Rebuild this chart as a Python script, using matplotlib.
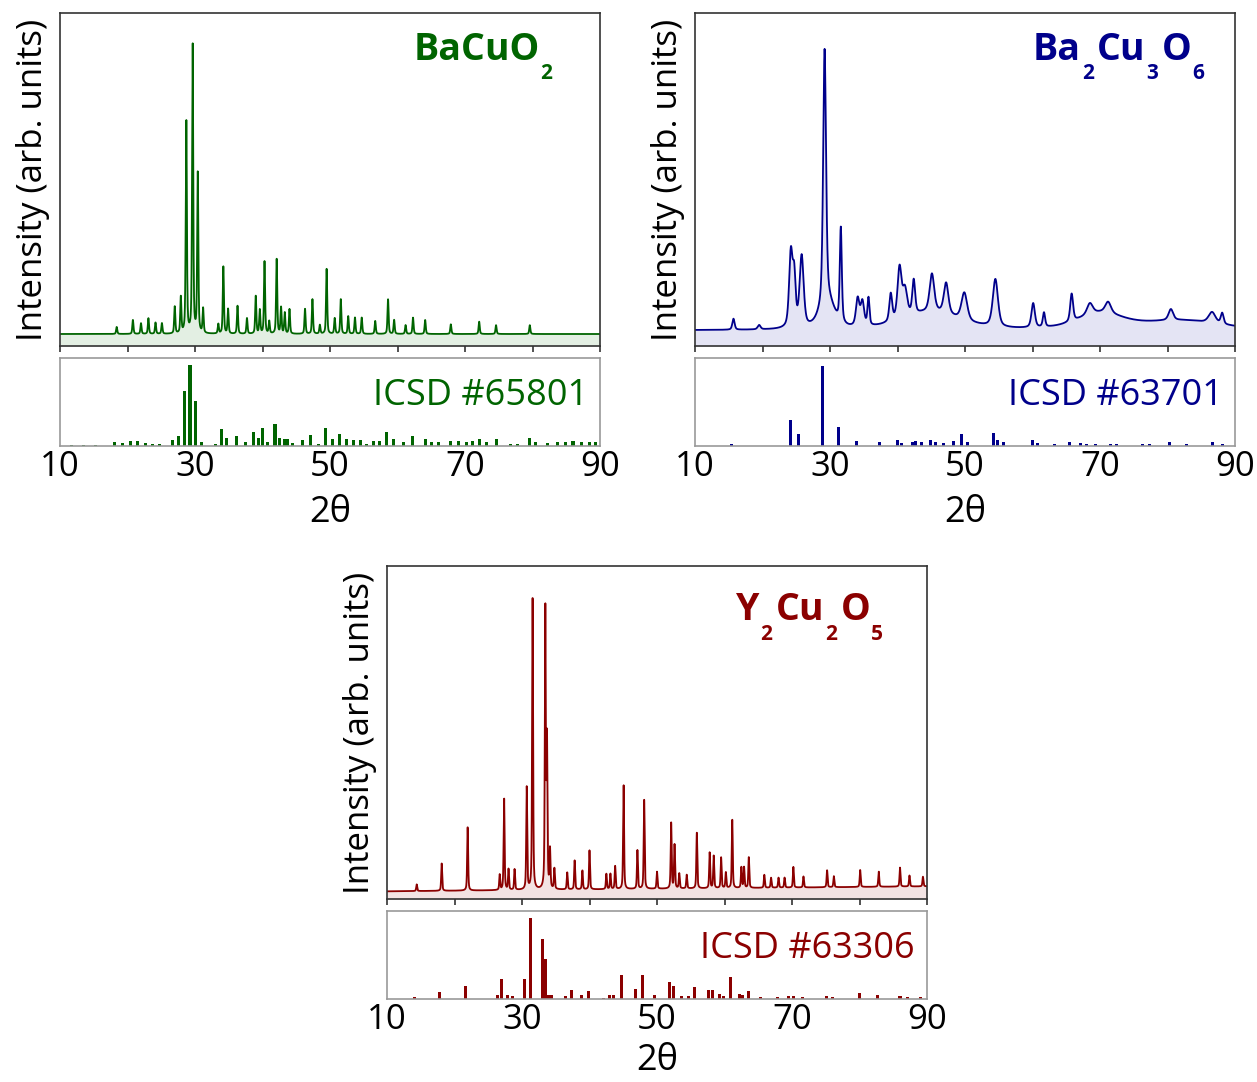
"""
XRD patterns of BaCuO2, Ba2Cu3O6 and Y2Cu2O5 with ICSD reference sticks
"""

### Import modules
import numpy as np
import matplotlib.pyplot as plt

### Fonts
plt.rcParams['font.family'] = ['Open Sans', 'DejaVu Sans']

###############################################################################
### BaCuO2 -- measured peaks (2theta, height) and ICSD #65801 sticks
bacuo2_bg = [0.036, 0.036]
bacuo2_fwhm = 0.2
bacuo2_pos = [18.4, 20.8, 22.0, 23.1, 24.15, 25.1, 27.0, 27.9, 28.71, 29.65,
              30.41, 31.2, 33.45, 34.2, 34.9, 36.3, 37.7, 39.0, 39.6, 40.3,
              41.0, 42.1, 42.75, 43.3, 44.0, 46.3, 47.4, 48.5, 49.5, 50.7,
              51.6, 52.7, 53.7, 54.7, 56.7, 58.6, 59.5, 61.2, 62.3, 64.1,
              67.9, 72.1, 74.6, 79.6]
bacuo2_hgt = [0.057, 0.078, 0.068, 0.083, 0.07, 0.068, 0.117, 0.144, 0.677,
              0.908, 0.519, 0.11, 0.065, 0.2375, 0.11, 0.12, 0.083, 0.149,
              0.107, 0.253, 0.073, 0.26, 0.115, 0.099, 0.11, 0.111, 0.14,
              0.0625, 0.231, 0.083, 0.14, 0.089, 0.085, 0.085, 0.075, 0.14,
              0.078, 0.0625, 0.085, 0.078, 0.065, 0.073, 0.0625, 0.0625]
icsd65801_pos = [11.7, 13.5, 15.2, 18.05, 19.3, 20.5, 21.55, 22.7, 23.7, 24.8,
                 26.6, 27.5, 28.4, 29.26, 30.05, 30.9, 33.1, 33.9, 34.7, 36.1,
                 37.5, 38.7, 39.4, 40.0, 40.7, 41.85, 42.5, 43.2, 43.7, 44.45,
                 45.9, 47.1, 48.25, 49.3, 50.4, 51.4, 52.5, 53.45, 54.45, 55.4,
                 56.4, 57.3, 58.4, 59.4, 60.9, 62.2, 64.1, 65.0, 66.1, 67.8,
                 69.1, 70.2, 71.1, 72.1, 73.2, 74.6, 76.7, 77.8, 79.6, 80.5,
                 82.2, 83.7, 84.9, 86.0, 87.2, 88.4, 89.4]
icsd65801_hgt = [0.01, 0.008, 0.008, 0.05, 0.03, 0.054, 0.058, 0.038, 0.019,
                 0.023, 0.073, 0.11, 0.62, 0.92, 0.51, 0.05, 0.027, 0.19,
                 0.088, 0.108, 0.05, 0.16, 0.088, 0.21, 0.046, 0.246, 0.096,
                 0.085, 0.077, 0.038, 0.065, 0.127, 0.023, 0.208, 0.077,
                 0.142, 0.085, 0.065, 0.069, 0.019, 0.058, 0.058, 0.16, 0.077,
                 0.046, 0.108, 0.075, 0.048, 0.04, 0.056, 0.056, 0.04, 0.06,
                 0.08, 0.048, 0.075, 0.028, 0.028, 0.087, 0.048, 0.036, 0.04,
                 0.048, 0.056, 0.048, 0.04, 0.04]

### Ba2Cu3O6 -- broad peaks, per-peak widths (last ones are amorphous humps)
ba2cu3o6_bg = [0.047, 0.047]
ba2cu3o6_pos = [15.7, 19.5, 24.2, 24.7, 25.8, 29.2, 29.6, 31.6, 34.1, 34.8,
                35.7, 39.0, 40.3, 41.1, 42.4, 45.1, 47.2, 49.9, 54.5, 60.1,
                61.7, 65.8, 68.5, 71.2, 80.5, 86.6, 88.1,
                45.0, 70.0, 82.0]
ba2cu3o6_hgt = [0.08, 0.06, 0.27, 0.19, 0.26, 0.81, 0.13, 0.33, 0.13, 0.12,
                0.13, 0.13, 0.2, 0.13, 0.15, 0.16, 0.14, 0.13, 0.19, 0.12,
                0.09, 0.13, 0.08, 0.08, 0.08, 0.08, 0.08,
                0.1, 0.095, 0.075]
ba2cu3o6_fwhm = [0.4, 0.5, 0.6, 0.5, 0.7, 0.5, 2.5, 0.35, 0.6, 0.6,
                 0.35, 0.5, 0.7, 0.8, 0.5, 0.8, 0.8, 1.0, 0.9, 0.6,
                 0.4, 0.5, 1.0, 1.0, 0.8, 1.2, 0.5,
                 10.0, 8.0, 14.0]
icsd63701_pos = [15.45, 24.1, 25.4, 28.85, 31.2, 33.9, 37.4, 40.0, 40.6, 42.2,
                 42.7, 43.5, 44.9, 45.6, 46.8, 48.3, 49.5, 50.4, 54.2, 54.8,
                 55.7, 60.0, 60.7, 63.2, 65.5, 67.1, 68.0, 69.4, 71.5, 72.4,
                 76.3, 77.4, 80.3, 82.8, 86.6, 88.1]
icsd63701_hgt = [0.028, 0.29, 0.14, 0.91, 0.22, 0.06, 0.05, 0.07, 0.03, 0.05,
                 0.06, 0.045, 0.063, 0.05, 0.03, 0.06, 0.14, 0.05, 0.15, 0.07,
                 0.04, 0.07, 0.03, 0.024, 0.05, 0.03, 0.02, 0.02, 0.02, 0.02,
                 0.02, 0.02, 0.04, 0.02, 0.045, 0.02]

### Y2Cu2O5 -- measured peaks and ICSD #63306 sticks
y2cu2o5_bg = [0.023, 0.038]
y2cu2o5_fwhm = 0.17
y2cu2o5_pos = [14.4, 18.1, 21.95, 26.7, 27.35, 28.0, 28.9, 30.7, 31.57, 33.45,
               33.7, 34.15, 34.8, 36.7, 37.8, 38.95, 40.0, 42.5, 43.1, 43.8,
               45.05, 47.1, 48.1, 50.0, 52.1, 52.6, 53.3, 54.4, 55.9, 57.8,
               58.4, 59.5, 60.2, 61.15, 62.5, 62.9, 63.6, 65.9, 66.9, 68.0,
               68.9, 70.2, 71.7, 75.2, 76.2, 80.1, 82.85, 86.0, 87.4, 89.4]
y2cu2o5_hgt = [0.043, 0.105, 0.215, 0.069, 0.30, 0.085, 0.085, 0.33, 0.907,
               0.866, 0.46, 0.14, 0.085, 0.074, 0.11, 0.08, 0.14, 0.069,
               0.069, 0.092, 0.338, 0.139, 0.29, 0.074, 0.22, 0.154, 0.068,
               0.064, 0.19, 0.13, 0.12, 0.115, 0.07, 0.23, 0.085, 0.085,
               0.115, 0.062, 0.053, 0.053, 0.053, 0.085, 0.056, 0.074, 0.056,
               0.074, 0.069, 0.08, 0.056, 0.052]
icsd63306_pos = [14.1, 17.8, 21.7, 26.3, 27.0, 27.9, 28.6, 30.3, 31.2, 33.1,
                 33.5, 33.85, 34.4, 36.4, 37.4, 38.8, 39.8, 42.1, 42.9, 43.5,
                 44.8, 46.8, 47.9, 49.7, 51.9, 52.4, 53.6, 54.6, 55.6, 57.6,
                 58.2, 59.3, 59.9, 60.9, 62.2, 62.7, 63.5, 65.4, 67.8, 69.5,
                 70.2, 71.6, 75.1, 76.0, 80.0, 82.7, 86.0, 87.1, 89.1]
icsd63306_hgt = [0.028, 0.075, 0.146, 0.047, 0.232, 0.04, 0.035, 0.224, 0.92,
                 0.677, 0.46, 0.047, 0.04, 0.035, 0.1, 0.047, 0.087, 0.016,
                 0.047, 0.047, 0.276, 0.11, 0.27, 0.04, 0.19, 0.15, 0.035,
                 0.03, 0.134, 0.106, 0.106, 0.055, 0.035, 0.25, 0.055, 0.047,
                 0.094, 0.024, 0.024, 0.03, 0.03, 0.024, 0.03, 0.024, 0.067,
                 0.047, 0.03, 0.024, 0.024]

###############################################################################
### Line shape for the measured patterns (pseudo-Voigt peaks on a background)
def pattern(pos, hgt, fwhm, bg):
    x = np.linspace(10, 90, 4001)
    back = bg[0] + (bg[1] - bg[0]) * (x - 10) / 80.
    y = back.copy()
    fwhm = np.broadcast_to(fwhm, len(pos))
    for p, h, w in zip(pos, hgt, fwhm):
        d = (x - p) / (w / 2.)
        y += (h - bg[0]) * (0.5 / (1 + d**2) + 0.5 * np.exp(-np.log(2) * d**2))
    return x, y

### Chemical formula with deep, small subscripts
def formula(ax, x, y, parts, color):
    t = ax.text(x, y, parts[0], transform=ax.transAxes, ha='left',
                va='baseline', fontsize=27, fontweight='bold', color=color)
    for i, s in enumerate(parts[1:]):
        sub = (i % 2 == 0)
        t = ax.annotate(s, xy=(1, y), xycoords=(t, 'axes fraction'),
                        xytext=(0.5 if sub else 2.5, -14 if sub else 0),
                        textcoords='offset points', ha='left', va='baseline',
                        fontsize=15 if sub else 27, fontweight='bold',
                        color=color)

###############################################################################
### Plot figures
fig = plt.figure(figsize=(12.57, 10.82), dpi=100)
W = 540 / 1257.

panels = [
    dict(left=60 / 1257., top=13, color='darkgreen', fill='#e3efe3',
         meas=(bacuo2_pos, bacuo2_hgt, bacuo2_fwhm, bacuo2_bg),
         sticks=(icsd65801_pos, icsd65801_hgt),
         name=['BaCuO', '2'], icsd='ICSD #65801', nx=0.654, ny=0.859,
         xpad=8),
    dict(left=695 / 1257., top=13, color='darkblue', fill='#e4e4f4',
         meas=(ba2cu3o6_pos, ba2cu3o6_hgt, ba2cu3o6_fwhm, ba2cu3o6_bg),
         sticks=(icsd63701_pos, icsd63701_hgt),
         name=['Ba', '2', 'Cu', '3', 'O', '6'], icsd='ICSD #63701',
         nx=0.626, ny=0.859, xpad=8),
    dict(left=387 / 1257., top=566, color='darkred', fill='#f3e3e3',
         meas=(y2cu2o5_pos, y2cu2o5_hgt, y2cu2o5_fwhm, y2cu2o5_bg),
         sticks=(icsd63306_pos, icsd63306_hgt),
         name=['Y', '2', 'Cu', '2', 'O', '5'], icsd='ICSD #63306',
         nx=0.647, ny=0.837, xpad=4),
]

for pn in panels:
    top = pn['top']
    ax = fig.add_axes([pn['left'], 1 - (top + 333) / 1082., W, 333 / 1082.])
    axs = fig.add_axes([pn['left'], 1 - (top + 433) / 1082., W, 88 / 1082.])

    ### measured pattern
    x, y = pattern(*pn['meas'])
    ax.fill_between(x, 0, y, color=pn['fill'], lw=0)
    ax.plot(x, y, color=pn['color'], lw=1.3)
    ax.set_xlim(10, 90)
    ax.set_ylim(0, 1)
    ax.set_xticks(np.arange(10, 91, 10))
    ax.set_xticklabels([])
    ax.set_yticks([])
    ax.tick_params(axis='x', direction='out', length=4, width=1.2,
                   color='#333333')
    for sp in ax.spines.values():
        sp.set_color('#333333')
        sp.set_linewidth(1.2)
    ax.set_ylabel('Intensity (arb. units)', fontsize=25, labelpad=7)
    formula(ax, pn['nx'], pn['ny'], pn['name'], pn['color'])

    ### ICSD reference sticks
    axs.bar(pn['sticks'][0], pn['sticks'][1], width=0.45, color=pn['color'],
            lw=0)
    axs.set_xlim(10, 90)
    axs.set_ylim(0, 1)
    axs.set_yticks([])
    axs.set_xticks([10, 30, 50, 70, 90])
    axs.tick_params(axis='x', length=0, pad=3, labelsize=25)
    for sp in axs.spines.values():
        sp.set_color('#999999')
        sp.set_linewidth(1.2)
    axs.text(0.978, 0.47, pn['icsd'], transform=axs.transAxes, ha='right',
             va='baseline', fontsize=26, color=pn['color'])
    axs.set_xlabel('2θ', fontsize=26, labelpad=pn['xpad'])

plt.savefig('out.png', dpi=100)
